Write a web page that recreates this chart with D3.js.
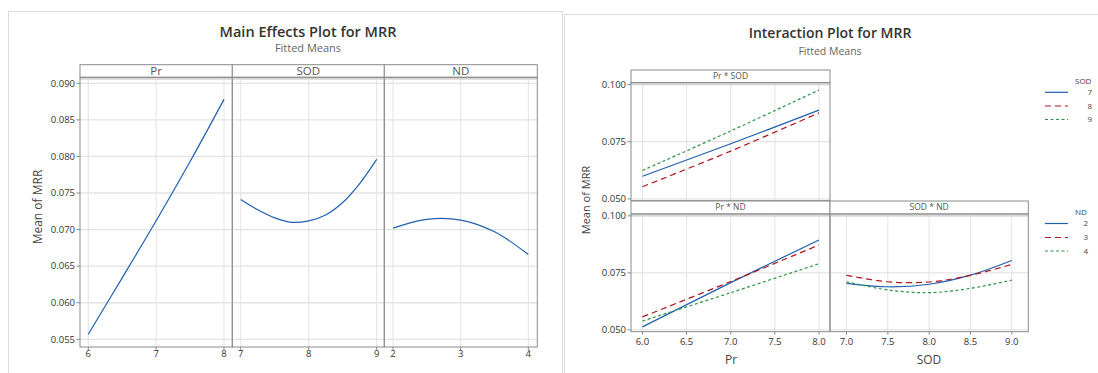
<!DOCTYPE html>
<html>
<head>
<meta charset="utf-8">
<script src="https://cdn.jsdelivr.net/npm/d3@7"></script>
<style>
  body { margin: 0; background: #fff; }
  text { font-family: "Open Sans", "Noto Sans", sans-serif; fill: #333; }
</style>
</head>
<body>
<div id="chart"></div>
<script>
// Main effects (fitted means)
const prLevels = [6, 6.5, 7, 7.5, 8];
const mainPr = [0.0557, 0.0634, 0.0712, 0.0793, 0.0878];
const sodLevels = [7, 7.25, 7.5, 7.75, 8, 8.25, 8.5, 8.75, 9];
const mainSod = [0.0741, 0.0727, 0.0716, 0.0710, 0.0712, 0.0720, 0.0737, 0.0763, 0.0796];
const ndLevels = [2, 2.5, 3, 3.5, 4];
const mainNd = [0.0702, 0.0714, 0.0713, 0.0697, 0.0666];
const mainYTicks = [0.055, 0.060, 0.065, 0.070, 0.075, 0.080, 0.085, 0.090];

// Interaction plot (fitted means)
const intPr = [6, 7, 8];
const prSod7 = [0.0599, 0.0741, 0.0888];
const prSod8 = [0.0553, 0.0709, 0.0876];
const prSod9 = [0.0624, 0.0797, 0.0976];
const prNd2 = [0.0513, 0.0707, 0.0894];
const prNd3 = [0.0557, 0.0712, 0.0872];
const prNd4 = [0.0539, 0.0663, 0.0790];
const intSod = [7, 7.5, 8, 8.5, 9];
const sodNd2 = [0.0704, 0.0689, 0.0700, 0.0740, 0.0804];
const sodNd3 = [0.0739, 0.0711, 0.0710, 0.0739, 0.0787];
const sodNd4 = [0.0711, 0.0675, 0.0663, 0.0682, 0.0718];
const intYTicks = [0.050, 0.075, 0.100];
const intPrTicks = [6.0, 6.5, 7.0, 7.5, 8.0];
const intSodTicks = [7.0, 7.5, 8.0, 8.5, 9.0];
const sodLegend = ["7", "8", "9"];
const ndLegend = ["2", "3", "4"];

// estilos das séries (sólida, tracejada longa, tracejada curta)
const styles = [
  { color: "#1f5fb0", dash: null },
  { color: "#b0151b", dash: "6,4" },
  { color: "#2a9444", dash: "3,2.5" }
];

const svg = d3.select("#chart").append("svg")
  .attr("width", 1098).attr("height", 373);

svg.append("rect").attr("width", 1098).attr("height", 373).attr("fill", "#fff");

// molduras das duas imagens
svg.append("rect").attr("x", 8.5).attr("y", 11.5).attr("width", 554).attr("height", 400)
  .attr("fill", "none").attr("stroke", "#dcdcdc");
svg.append("rect").attr("x", 564.5).attr("y", 14.5).attr("width", 560).attr("height", 400)
  .attr("fill", "none").attr("stroke", "#dcdcdc");

function panel(o) {
  const g = svg.append("g");
  const x = d3.scaleLinear().domain(o.xDomain).range([o.x0, o.x1]);
  const y = d3.scaleLinear().domain(o.yDomain).range([o.y1, o.plotTop]);

  // grade
  g.selectAll(".gx").data(o.xTicks).enter().append("line")
    .attr("x1", d => x(d)).attr("x2", d => x(d))
    .attr("y1", o.plotTop).attr("y2", o.y1)
    .attr("stroke", "#e3e3e3").attr("stroke-width", 1);
  g.selectAll(".gy").data(o.yTicks).enter().append("line")
    .attr("x1", o.x0).attr("x2", o.x1)
    .attr("y1", d => y(d)).attr("y2", d => y(d))
    .attr("stroke", "#e3e3e3").attr("stroke-width", 1.3);

  // linhas
  const line = d3.line().x(d => x(d[0])).y(d => y(d[1])).curve(d3.curveCatmullRom);
  o.series.forEach((s, i) => {
    const st = styles[i];
    g.append("path")
      .datum(s.xs.map((v, k) => [v, s.ys[k]]))
      .attr("d", line)
      .attr("fill", "none")
      .attr("stroke", st.color)
      .attr("stroke-width", 1.2)
      .attr("stroke-dasharray", st.dash);
  });

  // cabeçalho
  g.append("rect").attr("x", o.x0).attr("y", o.headTop)
    .attr("width", o.x1 - o.x0).attr("height", o.plotTop - o.headTop)
    .attr("fill", "#fff").attr("stroke", "#8a8a8a");
  g.append("line").attr("x1", o.x0).attr("x2", o.x1)
    .attr("y1", o.plotTop + 1.5).attr("y2", o.plotTop + 1.5)
    .attr("stroke", "#d6d6d6").attr("stroke-width", 2);
  g.append("text").attr("x", (o.x0 + o.x1) / 2).attr("y", (o.headTop + o.plotTop) / 2)
    .attr("dy", "0.35em").attr("text-anchor", "middle")
    .style("font-size", o.headSize + "px").style("fill", "#555")
    .text(o.header);

  // borda do painel
  g.append("rect").attr("x", o.x0).attr("y", o.plotTop)
    .attr("width", o.x1 - o.x0).attr("height", o.y1 - o.plotTop)
    .attr("fill", "none").attr("stroke", "#8a8a8a");

  if (o.showY) {
    g.selectAll(".ty").data(o.yTicks).enter().append("line")
      .attr("x1", o.x0 - 3.5).attr("x2", o.x0)
      .attr("y1", d => y(d)).attr("y2", d => y(d)).attr("stroke", "#8a8a8a");
    g.selectAll(".ly").data(o.yTicks).enter().append("text")
      .attr("x", o.x0 - 5).attr("y", d => y(d)).attr("dy", "0.35em")
      .attr("text-anchor", "end").style("font-size", "9.5px")
      .text(d => d3.format(".3f")(d));
  }
  if (o.showX) {
    g.selectAll(".tx").data(o.xTicks).enter().append("line")
      .attr("x1", d => x(d)).attr("x2", d => x(d))
      .attr("y1", o.y1).attr("y2", o.y1 + 3).attr("stroke", "#8a8a8a");
    g.selectAll(".lx").data(o.xTicks).enter().append("text")
      .attr("x", d => x(d)).attr("y", o.y1 + o.xLabelOff).attr("dy", "0.35em")
      .attr("text-anchor", "middle").style("font-size", "9.5px")
      .text(d => o.xFmt(d));
  }
}

// ---------- Main Effects Plot ----------
const mainY = [0.05395, 0.09082];
const mainTop = 77.3, mainHead = 64.7, mainBottom = 347;
const mainSeries = [
  { header: "Pr", x0: 80, x1: 232.3, dom: [5.878, 8.122], ticks: [6, 7, 8], xs: prLevels, ys: mainPr },
  { header: "SOD", x0: 232.3, x1: 384.3, dom: [6.876, 9.112], ticks: [7, 8, 9], xs: sodLevels, ys: mainSod },
  { header: "ND", x0: 384.3, x1: 537.3, dom: [1.871, 4.133], ticks: [2, 3, 4], xs: ndLevels, ys: mainNd }
];
mainSeries.forEach((p, i) => panel({
  x0: p.x0, x1: p.x1, headTop: mainHead, plotTop: mainTop, y1: mainBottom,
  xDomain: p.dom, yDomain: mainY, xTicks: p.ticks, yTicks: mainYTicks,
  header: p.header, headSize: 11.5, showY: i === 0, showX: true, xLabelOff: 7,
  xFmt: d3.format("d"),
  series: [{ xs: p.xs, ys: p.ys }]
}));

svg.append("text").attr("x", 308).attr("y", 32).attr("dy", "0.35em")
  .attr("text-anchor", "middle").style("font-size", "14.5px").style("font-weight", 600)
  .text("Main Effects Plot for MRR");
svg.append("text").attr("x", 308).attr("y", 48).attr("dy", "0.35em")
  .attr("text-anchor", "middle").style("font-size", "11px").style("fill", "#666")
  .text("Fitted Means");
svg.append("text").attr("transform", "translate(38,207) rotate(-90)")
  .attr("dy", "0.35em").attr("text-anchor", "middle").style("font-size", "12px").style("fill", "#444")
  .text("Mean of MRR");

// ---------- Interaction Plot ----------
const intY = [0.0492, 0.1008];
const colL = [631, 830], colR = [830, 1028.3];
const prDom = [5.87, 8.125], sodDom = [6.8, 9.2];
const fmt1 = d3.format(".1f");

panel({
  x0: colL[0], x1: colL[1], headTop: 70, plotTop: 82.7, y1: 200.7,
  xDomain: prDom, yDomain: intY, xTicks: intPrTicks, yTicks: intYTicks,
  header: "Pr * SOD", headSize: 8.5, showY: true, showX: false,
  series: [{ xs: intPr, ys: prSod7 }, { xs: intPr, ys: prSod8 }, { xs: intPr, ys: prSod9 }]
});
panel({
  x0: colL[0], x1: colL[1], headTop: 201, plotTop: 214, y1: 331.7,
  xDomain: prDom, yDomain: intY, xTicks: intPrTicks, yTicks: intYTicks,
  header: "Pr * ND", headSize: 8.5, showY: true, showX: true, xLabelOff: 10, xFmt: fmt1,
  series: [{ xs: intPr, ys: prNd2 }, { xs: intPr, ys: prNd3 }, { xs: intPr, ys: prNd4 }]
});
panel({
  x0: colR[0], x1: colR[1], headTop: 201, plotTop: 214, y1: 331.7,
  xDomain: sodDom, yDomain: intY, xTicks: intSodTicks, yTicks: intYTicks,
  header: "SOD * ND", headSize: 8.5, showY: false, showX: true, xLabelOff: 10, xFmt: fmt1,
  series: [{ xs: intSod, ys: sodNd2 }, { xs: intSod, ys: sodNd3 }, { xs: intSod, ys: sodNd4 }]
});

svg.append("text").attr("x", 830).attr("y", 33).attr("dy", "0.35em")
  .attr("text-anchor", "middle").style("font-size", "14px").style("font-weight", 600)
  .text("Interaction Plot for MRR");
svg.append("text").attr("x", 830).attr("y", 51).attr("dy", "0.35em")
  .attr("text-anchor", "middle").style("font-size", "10.5px").style("fill", "#666")
  .text("Fitted Means");
svg.append("text").attr("transform", "translate(586,200) rotate(-90)")
  .attr("dy", "0.35em").attr("text-anchor", "middle").style("font-size", "11px").style("fill", "#444")
  .text("Mean of MRR");
svg.append("text").attr("x", 731).attr("y", 360).attr("dy", "0.35em")
  .attr("text-anchor", "middle").style("font-size", "12px").style("fill", "#444").text("Pr");
svg.append("text").attr("x", 929).attr("y", 360).attr("dy", "0.35em")
  .attr("text-anchor", "middle").style("font-size", "12px").style("fill", "#444").text("SOD");

// legendas
function legend(title, items, titleY, rowsY, labelX) {
  const g = svg.append("g");
  g.append("text").attr("x", 1075).attr("y", titleY).attr("dy", "0.35em")
    .style("font-size", "8px").style("fill", "#444").text(title);
  items.forEach((lab, i) => {
    g.append("line").attr("x1", 1045).attr("x2", 1068)
      .attr("y1", rowsY[i]).attr("y2", rowsY[i])
      .attr("stroke", styles[i].color).attr("stroke-width", 1.2)
      .attr("stroke-dasharray", styles[i].dash);
    g.append("text").attr("x", labelX).attr("y", rowsY[i]).attr("dy", "0.35em")
      .attr("text-anchor", "end").style("font-size", "8px").style("fill", "#444").text(lab);
  });
}
legend("SOD", sodLegend, 81.5, [92.3, 106, 119.5], 1092);
legend("ND", ndLegend, 212.5, [223.5, 237.5, 251], 1088);
</script>
</body>
</html>
